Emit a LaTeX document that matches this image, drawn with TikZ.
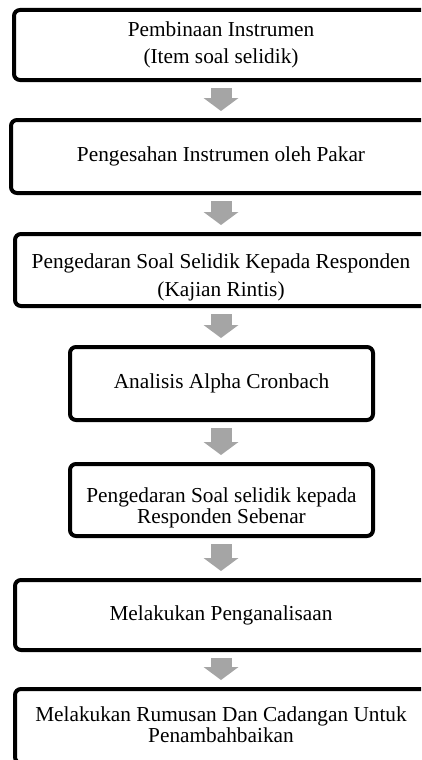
\documentclass[tikz,border=0pt]{standalone}
\usepackage{fontspec}
\setmainfont{Liberation Serif}
\usetikzlibrary{arrows.meta}
\definecolor{arrowgray}{RGB}{165,165,165}
\newcommand{\dropText}[2]{\raisebox{-#1}[\height][\depth]{\begin{tabular}{@{}c@{}}#2\end{tabular}}}

\begin{document}
\begin{tikzpicture}[x=1pt, y=-1pt,
    stepbox/.style={draw, line width=4pt, rounded corners=6pt, align=center, inner sep=0pt,
      font=\fontsize{21.3}{27}\selectfont},
    widebox/.style={stepbox, minimum width=414pt},
    narrowbox/.style={stepbox, minimum width=303pt},
    flowarrow/.style={draw=arrowgray, line width=21pt,
      -{Triangle[width=35pt, length=13pt, line width=0pt]}, shorten <=6pt, shorten >=7pt}]
  \useasboundingbox (0,0) rectangle (421,760);
  \clip (0,0) rectangle (421,760);
  % Langkah-langkah kajian
  \node[widebox, minimum height=70pt] (bina) at (221,45) {Pembinaan Instrumen\\(Item soal selidik)};
  \node[widebox, minimum width=420pt, minimum height=73pt] (sah) at (221,156.5) {Pengesahan Instrumen oleh Pakar};
  \node[widebox, minimum width=412pt, minimum height=72pt] (rintis) at (221,270)
    {\fontsize{21.3}{28.5}\selectfont\dropText{7pt}{Pengedaran Soal Selidik Kepada Responden\\(Kajian Rintis)}};
  \node[narrowbox, minimum height=73pt] (alpha) at (221.5,383.5) {Analisis Alpha Cronbach};
  \node[narrowbox, minimum height=72pt] (sebenar) at (221.5,500)
    {\fontsize{21.3}{20.5}\selectfont\dropText{9pt}{Pengedaran Soal selidik kepada\\Responden Sebenar}};
  \node[widebox, minimum width=412pt, minimum height=70pt] (analisa) at (221,615) {Melakukan Penganalisaan};
  \node[widebox, minimum width=412pt, minimum height=74pt] (rumusan) at (221,726)
    {\fontsize{21.3}{21}\selectfont\dropText{2pt}{Melakukan Rumusan Dan Cadangan Untuk\\Penambahbaikan}};
  % Anak panah
  \foreach \from/\to in {bina/sah, sah/rintis, rintis/alpha, alpha/sebenar, sebenar/analisa, analisa/rumusan}
    \draw[flowarrow] (\from.south -| 221,0) -- (\to.north -| 221,0);
\end{tikzpicture}
\end{document}
